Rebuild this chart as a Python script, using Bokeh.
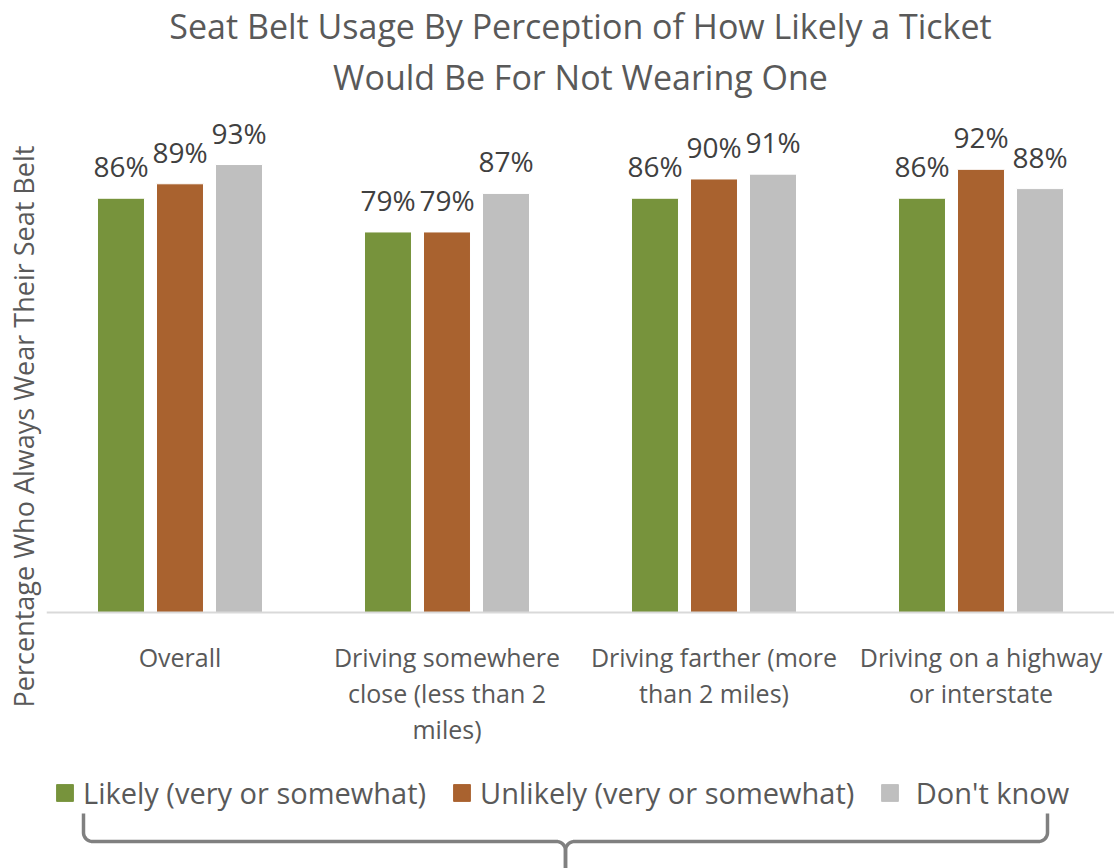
import numpy as np
from bokeh.plotting import figure
from bokeh.models import (FactorRange, Range1d, LabelSet, ColumnDataSource, Legend,
                          LegendItem, Title, Span, FixedTicker)
from bokeh.core.properties import value
from bokeh.transform import dodge
from bokeh.layouts import column
from bokeh.embed import file_html
from bokeh.resources import INLINE

categories = ["Overall",
              "Driving somewhere\nclose (less than 2\nmiles)",
              "Driving farther (more\nthan 2 miles)",
              "Driving on a highway\nor interstate"]
series_names = ["Likely (very or somewhat)", "Unlikely (very or somewhat)", " Don't know"]
likely = [86, 79, 86, 86]
unlikely = [89, 79, 90, 92]
dont_know = [93, 87, 91, 88]

colors = ["#77933C", "#A9622F", "#BFBFBF"]
FONT = "Open Sans"
TXT = "#595959"

# page layout (pixels)
W, H = 1114, 868
LEFT = 46
TOP = 100           # frame top (title panel height)
BASE = 610          # pixel row of the 0 % baseline
FRAME_BOTTOM = 748  # frame extends below baseline to hold category labels
LEGEND_BOTTOM = 810
PX_PER_PCT = 4.817
LINE_STEP = 36      # spacing of wrapped category-label lines
FIRST_LINE = 44     # first category-label line centre below baseline

src = ColumnDataSource(dict(
    x=categories,
    likely=likely, unlikely=unlikely, dont_know=dont_know,
    likely_lbl=[f"{v}%" for v in likely],
    unlikely_lbl=[f"{v}%" for v in unlikely],
    dont_know_lbl=[f"{v}%" for v in dont_know],
))

# one row per wrapped line of each category label, centred under its group
lx_, lt_, lo_, lb_ = [], [], [], []
for c in categories:
    for i, line in enumerate(c.split("\n")):
        lx_.append(c); lt_.append(line); lo_.append(-(FIRST_LINE + i * LINE_STEP)); lb_.append(0)
cat_src = ColumnDataSource(dict(x=lx_, text=lt_, off=lo_, base=lb_))

p = figure(x_range=FactorRange(*categories, range_padding=0),
           y_range=Range1d(-(FRAME_BOTTOM - BASE) / PX_PER_PCT, (BASE - TOP) / PX_PER_PCT),
           frame_width=W - LEFT, frame_height=FRAME_BOTTOM - TOP,
           output_backend="svg", toolbar_location=None,
           min_border_left=LEFT, min_border_right=0, min_border_top=TOP, min_border_bottom=0,
           outline_line_color=None)
p.title.visible = False
p.xaxis.visible = False
p.xgrid.visible = False
p.ygrid.visible = False

offsets = [-0.221, 0.0, 0.221]
cols = ["likely", "unlikely", "dont_know"]
for off, col, c in zip(offsets, cols, colors):
    p.vbar(x=dodge("x", off, range=p.x_range), top=col, width=0.176, source=src,
           fill_color=c, line_color="white", line_width=1)
    p.add_layout(LabelSet(x=dodge("x", off, range=p.x_range), y=col, text=col + "_lbl",
                          source=src, text_align="center", text_baseline="alphabetic",
                          y_offset=21, text_font=value(FONT), text_font_size="28px",
                          text_color="#404040"))

# baseline (category axis line)
p.add_layout(Span(location=0, dimension="width", line_color="#D9D9D9", line_width=2))

# category labels under the baseline
p.add_layout(LabelSet(x="x", y="base", text="text", y_offset="off", source=cat_src,
                      text_align="center", text_baseline="middle", text_font=value(FONT),
                      text_font_size="25px", text_color=TXT))

p.yaxis.ticker = FixedTicker(ticks=[])
p.yaxis.axis_line_color = None
p.yaxis.major_tick_line_color = None
p.yaxis.minor_tick_line_color = None
p.yaxis.axis_label = "Percentage Who Always Wear Their Seat Belt"
p.yaxis.axis_label_text_font = FONT
p.yaxis.axis_label_text_font_size = "27px"
p.yaxis.axis_label_text_font_style = "normal"
p.yaxis.axis_label_text_color = TXT
p.yaxis.axis_label_standoff = 5

p.add_layout(Title(text="Would Be For Not Wearing One", align="center", text_font=FONT,
                   text_font_size="34px", text_font_style="normal", text_color=TXT,
                   standoff=6), "above")
p.add_layout(Title(text="Seat Belt Usage By Perception of How Likely a Ticket", align="center",
                   text_font=FONT, text_font_size="34px", text_font_style="normal",
                   text_color=TXT, standoff=0), "above")

# legend strip (shares the category range; swatches come from hidden copies of the series)
lg = figure(width=W, height=LEGEND_BOTTOM - FRAME_BOTTOM, x_range=p.x_range,
            y_range=Range1d(0, 100), output_backend="svg", toolbar_location=None,
            min_border=0, min_border_left=LEFT, outline_line_color=None)
lg.axis.visible = False
lg.grid.visible = False
leg_renderers = []
for off, col, c in zip(offsets, cols, colors):
    leg_renderers.append(lg.vbar(x=dodge("x", off, range=p.x_range), top=col, width=0.176,
                                 source=src, fill_color=c, line_color=c, line_width=1,
                                 visible=False))
legend = Legend(items=[LegendItem(label=n, renderers=[r]) for n, r in zip(series_names, leg_renderers)],
                orientation="horizontal", location=(54 - LEFT, 0), border_line_color=None,
                background_fill_alpha=0, label_text_font=FONT, label_text_font_size="29px",
                label_text_color=TXT, glyph_width=21, glyph_height=21,
                spacing=25, label_standoff=8, padding=0, margin=0,
                inactive_fill_alpha=0)
lg.add_layout(legend)

# decorative brace (page pixel coordinates)
b = figure(width=W, height=H - LEGEND_BOTTOM, x_range=Range1d(LEFT, W),
           y_range=Range1d(H, LEGEND_BOTTOM), output_backend="svg", toolbar_location=None,
           min_border=0, min_border_left=LEFT, outline_line_color=None)
b.axis.visible = False
b.grid.visible = False
r = 9
t = np.linspace(0, np.pi / 2, 12)
bx_l = [83] + list(92 - r * np.cos(t)) + list(556 + r * np.sin(t)) + [565]
by_l = [811] + list(830 + r * np.sin(t)) + list(848 - r * np.cos(t)) + [868]
bx_r = [565] + list(574 - r * np.cos(t)) + list(1038 + r * np.sin(t)) + [1047]
by_r = [868] + list(848 - r * np.sin(t)) + list(830 + r * np.cos(t)) + [811]
b.line(bx_l, by_l, line_color="#808080", line_width=3.5)
b.line(bx_r, by_r, line_color="#808080", line_width=3.5)

layout = column(p, lg, b, spacing=0)
open("out.html", "w").write(file_html(layout, INLINE))
